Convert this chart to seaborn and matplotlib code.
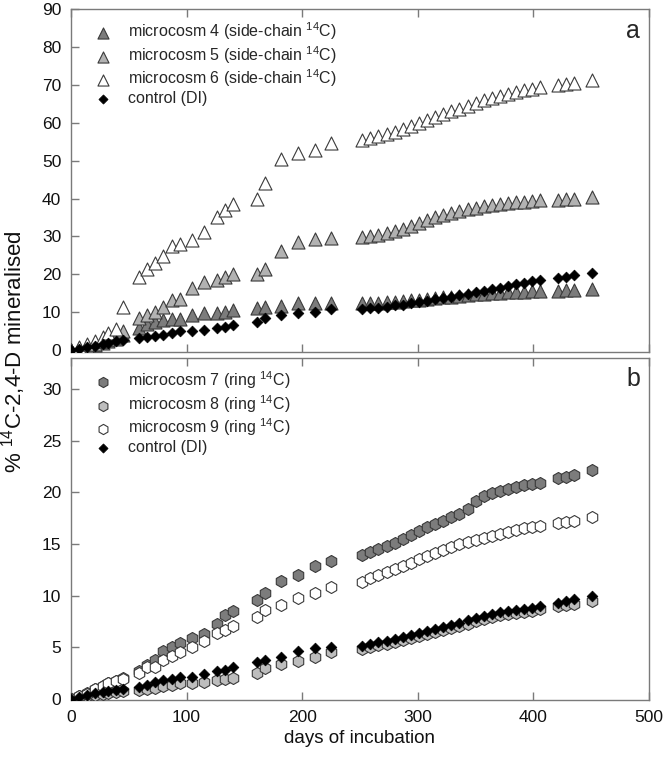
import matplotlib
matplotlib.use("Agg")
import matplotlib.pyplot as plt
import seaborn as sns
import pandas as pd
import numpy as np

sns.set_theme(style="white")
plt.rcParams['font.family'] = ['Liberation Sans', 'DejaVu Sans']
plt.rcParams['mathtext.fontset'] = 'custom'
plt.rcParams['mathtext.rm'] = 'Liberation Sans'
plt.rcParams['mathtext.it'] = 'Liberation Sans:italic'
plt.rcParams['mathtext.default'] = 'regular'

days = [0, 7, 14, 21, 28, 32, 39, 45,
        59, 66, 73, 80, 87, 94, 105, 115, 126, 133, 140, 161, 168, 182, 196, 211, 225,
        252, 259, 266, 273, 280, 287, 294, 301, 308, 315, 322, 329, 336, 343, 350, 357,
        364, 371, 378, 385, 392, 399, 406, 421, 428, 435, 451]

# panel a (side-chain 14C)
mic4 = [0, 0.4, 0.9, 1.4, 2.0, 2.5, 3.0, 4.0,
        5.9, 6.8, 7.5, 7.9, 8.1, 8.3, 9.2, 9.7, 9.9, 10.1, 10.7, 11.0, 11.3, 11.6, 12.3, 12.5, 12.5,
        12.3, 12.4, 12.5, 12.6, 12.7, 12.9, 13.1, 13.3, 13.5, 13.7, 13.9, 14.1, 14.3, 14.5, 14.7, 14.9,
        15.0, 15.1, 15.2, 15.3, 15.4, 15.5, 15.5, 15.7, 15.8, 15.8, 16.0]
mic5 = [0, 0.5, 1.0, 1.5, 2.5, 3.0, 3.5, 5.0,
        8.6, 9.2, 10.1, 11.4, 13.2, 13.5, 16.5, 18.0, 18.5, 19.3, 20.0, 20.2, 21.3, 26.2, 28.6, 29.2, 29.5,
        29.8, 30.0, 30.3, 30.8, 31.3, 32.0, 32.8, 33.5, 34.2, 35.0, 35.6, 36.2, 36.7, 37.2, 37.6, 38.0,
        38.3, 38.6, 38.8, 39.0, 39.2, 39.3, 39.5, 39.7, 40.0, 40.0, 40.3]
mic6 = [0, 0.8, 1.5, 2.5, 3.5, 4.5, 5.5, 11.5,
        19.3, 21.3, 22.9, 24.8, 27.5, 28.0, 29.0, 31.2, 35.0, 37.0, 38.5, 40.0, 44.0, 50.5, 52.0, 52.8, 54.6,
        55.5, 56.0, 56.5, 57.0, 57.6, 58.3, 59.0, 59.8, 60.6, 61.5, 62.3, 63.0, 63.7, 64.5, 65.2, 65.9,
        66.5, 67.0, 67.5, 68.0, 68.5, 68.9, 69.3, 70.0, 70.3, 70.6, 71.2]
ctrl_a = [0, 0.4, 0.8, 1.2, 1.6, 2.0, 2.4, 2.6,
          3.1, 3.5, 3.7, 4.1, 4.6, 5.0, 5.1, 5.3, 5.9, 6.2, 6.6, 7.5, 8.6, 9.2, 9.8, 10.1, 10.8,
          10.8, 11.0, 11.2, 11.5, 11.8, 12.0, 12.3, 12.6, 13.0, 13.4, 13.8, 14.1, 14.5, 14.9, 15.3, 15.7,
          16.1, 16.5, 17.0, 17.4, 17.8, 18.2, 18.6, 19.1, 19.4, 19.7, 20.3]

# panel b (ring 14C)
mic7 = [0, 0.3, 0.6, 1.0, 1.3, 1.5, 1.7, 2.0,
        2.7, 3.3, 3.8, 4.6, 5.0, 5.4, 5.9, 6.3, 7.3, 8.1, 8.5, 9.6, 10.3, 11.4, 12.0, 12.9, 13.4,
        13.9, 14.2, 14.5, 14.8, 15.1, 15.5, 15.9, 16.3, 16.6, 16.9, 17.2, 17.6, 17.9, 18.4, 19.2, 19.6,
        19.9, 20.1, 20.3, 20.5, 20.7, 20.8, 20.95, 21.4, 21.5, 21.7, 22.15]
mic8 = [0, 0.1, 0.3, 0.4, 0.5, 0.6, 0.7, 0.8,
        0.9, 1.0, 1.1, 1.3, 1.4, 1.5, 1.5, 1.6, 1.8, 1.9, 2.0, 2.5, 3.0, 3.4, 3.7, 4.1, 4.5,
        4.8, 5.0, 5.2, 5.3, 5.5, 5.7, 5.9, 6.1, 6.3, 6.5, 6.7, 6.9, 7.1, 7.3, 7.5, 7.7,
        7.9, 8.1, 8.2, 8.3, 8.4, 8.5, 8.7, 9.0, 9.1, 9.2, 9.5]
mic9 = [0, 0.3, 0.5, 1.0, 1.3, 1.5, 1.7, 1.9,
        2.5, 3.1, 3.1, 3.8, 4.2, 4.5, 5.0, 5.6, 6.4, 6.7, 7.1, 7.9, 8.6, 9.1, 9.8, 10.3, 10.8,
        11.3, 11.7, 12.0, 12.3, 12.6, 12.9, 13.2, 13.5, 13.8, 14.1, 14.4, 14.7, 15.0, 15.2, 15.4, 15.6,
        15.8, 16.0, 16.2, 16.4, 16.5, 16.6, 16.7, 17.0, 17.1, 17.2, 17.6]
ctrl_b = [0, 0.2, 0.4, 0.6, 0.7, 0.8, 0.9, 1.0,
          1.2, 1.4, 1.6, 1.8, 1.9, 2.1, 2.1, 2.4, 2.7, 2.85, 3.1, 3.6, 3.8, 4.1, 4.6, 4.9, 5.0,
          5.1, 5.3, 5.5, 5.6, 5.8, 6.0, 6.2, 6.4, 6.6, 6.8, 7.0, 7.2, 7.4, 7.6, 7.8, 8.0,
          8.2, 8.4, 8.5, 8.6, 8.7, 8.8, 9.0, 9.3, 9.5, 9.7, 10.0]

labels_a = ["microcosm 4 (side-chain $^{14}$C)", "microcosm 5 (side-chain $^{14}$C)",
            "microcosm 6 (side-chain $^{14}$C)", "control (DI)"]
labels_b = ["microcosm 7 (ring $^{14}$C)", "microcosm 8 (ring $^{14}$C)",
            "microcosm 9 (ring $^{14}$C)", "control (DI)"]

W, H = 666, 758
fig = plt.figure(figsize=(W / 100, H / 100), dpi=100)
L, R = 71 / W, 649 / W
axa = fig.add_axes([L, 1 - 352 / H, R - L, (352 - 9) / H])
axb = fig.add_axes([L, 1 - 700 / H, R - L, (700 - 358) / H])

edge = "#3a3a3a"
spine_c = "#7a7a7a"

def draw(ax, series, labels, fills, marker, msize):
    for vals, lab, fc in zip(series[:3], labels[:3], fills):
        sns.scatterplot(x=days, y=vals, ax=ax, marker=marker, s=msize, color=fc,
                        edgecolor=edge, linewidth=0.8, label=lab, zorder=3)
    sns.scatterplot(x=days, y=series[3], ax=ax, marker="D", s=30, color="black",
                    edgecolor="black", linewidth=0.5, label=labels[3], zorder=4)

draw(axa, [mic4, mic5, mic6, ctrl_a], labels_a, ["#7c7c7c", "#b2b2b2", "white"], "^", 88)
draw(axb, [mic7, mic8, mic9, ctrl_b], labels_b, ["#7c7c7c", "#bdbdbd", "white"], "h", 75)

axa.set_ylim(-0.5, 90)
axa.set_yticks(np.arange(0, 91, 10))
axb.set_ylim(-0.1, 33)
axb.set_yticks(np.arange(0, 31, 5))
for ax in (axa, axb):
    ax.set_xlim(0, 500)
    ax.set_xticks(np.arange(0, 501, 100))
    for s in ax.spines.values():
        s.set_color(spine_c)
        s.set_linewidth(1.0)
        s.set_visible(True)
    ax.tick_params(direction="in", length=6, width=1.0, color=spine_c,
                   top=True, bottom=True, left=True, right=False,
                   labelsize=12.5, labelcolor="#111111", pad=7)
    ax.set_xlabel("")
    ax.set_ylabel("")
    ax.legend(loc="upper left", bbox_to_anchor=(0.0, 1.013), frameon=False,
              fontsize=11.5, handletextpad=0.6, labelspacing=0.12,
              borderaxespad=0.6, handlelength=2.0, markerscale=0.85)
axa.tick_params(labelbottom=False)
axb.set_xlabel("days of incubation", fontsize=13.5, color="#111111", labelpad=4)

axa.text(0.985, 0.97, "a", transform=axa.transAxes, ha="right", va="top", fontsize=18)
axb.text(0.985, 0.975, "b", transform=axb.transAxes, ha="right", va="top", fontsize=18)

fig.text(14 / W, 1 - 352 / H, "% $^{14}$C-2,4-D mineralised", rotation=90,
         ha="center", va="center", fontsize=16, color="#111111")

fig.savefig("out.png", dpi=100, facecolor="white")
